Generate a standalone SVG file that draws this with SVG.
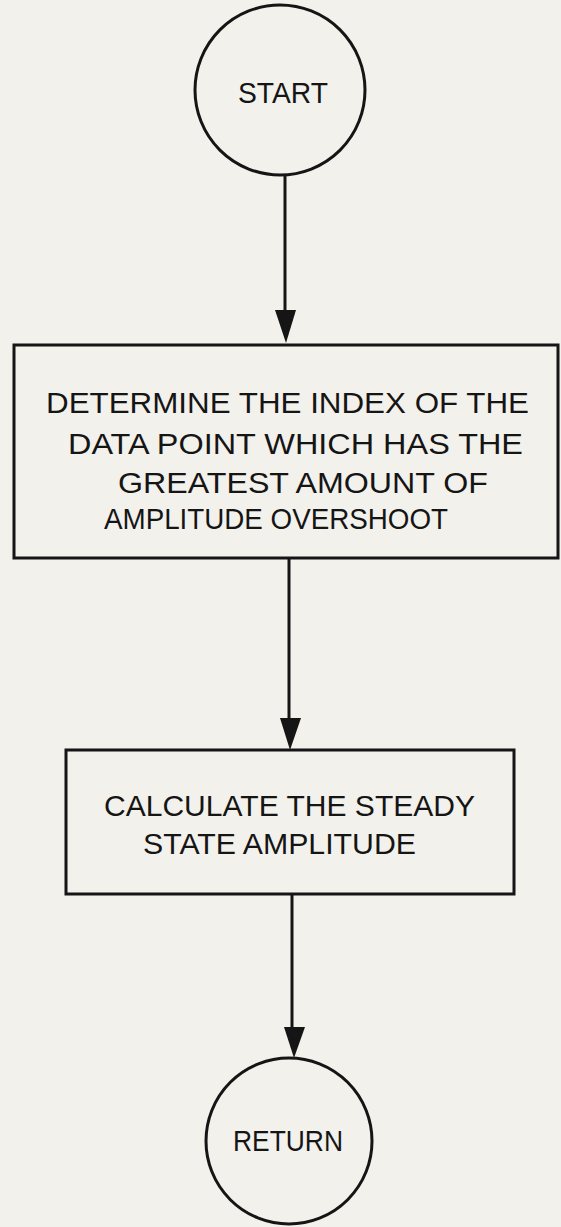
<svg xmlns="http://www.w3.org/2000/svg" width="561" height="1227" viewBox="0 0 561 1227">
<style>
.shape{fill:none;stroke:#151515;stroke-width:3}
.conn{stroke:#151515;stroke-width:3;fill:none}
.head{fill:#151515;stroke:none}
.t{font-family:"Liberation Sans",Arial,sans-serif;font-size:30px;fill:#151515}
</style>
<rect x="0" y="0" width="561" height="1227" fill="#f3f1ec"/>
<g id="connectors">
<line class="conn" x1="285" y1="175" x2="285" y2="312"/>
<polygon class="head" points="275,310 296,310 286,343"/>
<line class="conn" x1="289" y1="558" x2="289" y2="720"/>
<polygon class="head" points="280,718 301,718 290,750"/>
<line class="conn" x1="292" y1="894" x2="292" y2="1029"/>
<polygon class="head" points="284,1027 305,1027 294,1058"/>
</g>
<g id="start">
<circle class="shape" cx="280" cy="90" r="85"/>
<text class="t" x="238" y="103" textLength="90" lengthAdjust="spacingAndGlyphs">START</text>
</g>
<g id="determine">
<rect class="shape" x="14" y="345" width="544" height="213"/>
<text class="t" x="46" y="413" textLength="483" lengthAdjust="spacingAndGlyphs">DETERMINE THE INDEX OF THE</text>
<text class="t" x="68" y="454" textLength="455" lengthAdjust="spacingAndGlyphs">DATA POINT WHICH HAS THE</text>
<text class="t" x="118" y="493" textLength="370" lengthAdjust="spacingAndGlyphs">GREATEST AMOUNT OF</text>
<text class="t" x="104" y="529" textLength="344" lengthAdjust="spacingAndGlyphs">AMPLITUDE OVERSHOOT</text>
</g>
<g id="calculate">
<rect class="shape" x="66" y="750" width="448" height="144"/>
<text class="t" x="104" y="816" textLength="371" lengthAdjust="spacingAndGlyphs">CALCULATE THE STEADY</text>
<text class="t" x="143" y="854" textLength="273" lengthAdjust="spacingAndGlyphs">STATE AMPLITUDE</text>
</g>
<g id="return">
<circle class="shape" cx="289" cy="1141" r="83"/>
<text class="t" x="233" y="1151" textLength="110" lengthAdjust="spacingAndGlyphs">RETURN</text>
</g>
</svg>
